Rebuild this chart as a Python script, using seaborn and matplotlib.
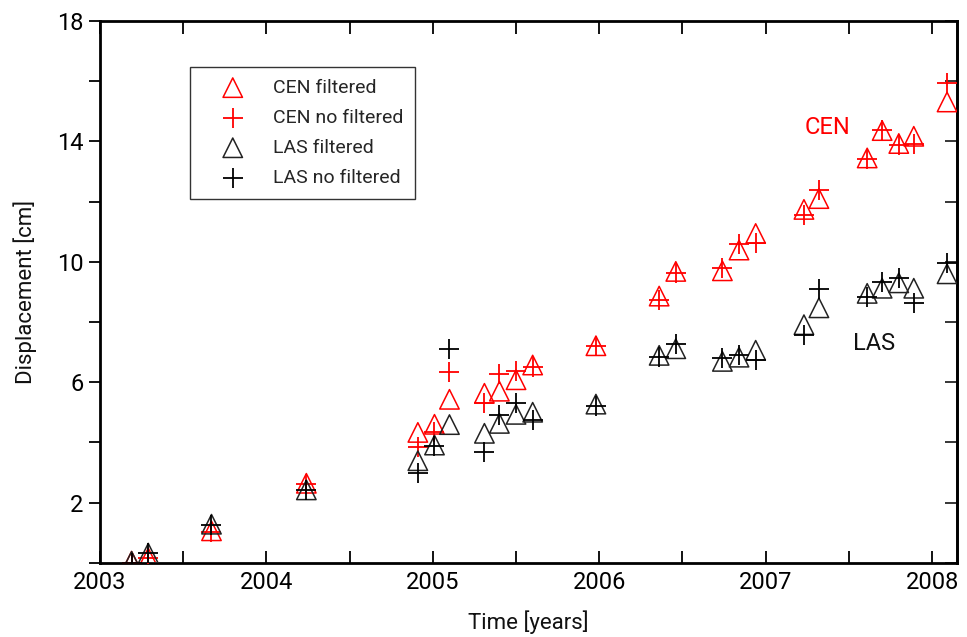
import matplotlib
matplotlib.use("Agg")
import matplotlib.pyplot as plt
import seaborn as sns
import pandas as pd

# ---- data ----
time = [2003.19, 2003.29, 2003.67, 2004.24, 2004.91, 2005.01, 2005.10, 2005.31,
        2005.40, 2005.50, 2005.60, 2005.98, 2006.36, 2006.46, 2006.74, 2006.84,
        2006.94, 2007.23, 2007.32, 2007.61, 2007.70, 2007.80, 2007.89, 2008.09]
cen_filtered = [0.05, 0.16, 1.06, 2.64, 4.33, 4.60, 5.43, 5.63, 5.70, 6.08, 6.57, 7.21,
                8.86, 9.68, 9.70, 10.39, 10.94, 11.74, 12.10, 13.45, 14.36, 13.93, 14.17, 15.31]
cen_nofilt = [0.00, 0.15, 1.03, 2.60, 3.85, 4.35, 6.35, 5.30, 6.27, 6.38, 6.51, 7.20,
              8.73, 9.64, 9.78, 10.59, 10.63, 11.55, 12.40, 13.40, 14.37, 13.88, 13.91, 15.93]
las_filtered = [0.05, 0.32, 1.28, 2.42, 3.39, 3.91, 4.59, 4.30, 4.63, 4.93, 5.00, 5.27,
                6.89, 7.11, 6.69, 6.83, 7.06, 7.91, 8.47, 8.95, 9.12, 9.30, 9.12, 9.60]
las_nofilt = [0.00, 0.33, 1.25, 2.42, 2.99, 3.88, 7.10, 3.69, 4.91, 5.30, 4.74, 5.20,
              6.82, 7.27, 6.79, 6.90, 6.73, 7.56, 9.08, 8.84, 9.34, 9.47, 8.62, 9.97]
legend_labels = ["CEN filtered", "CEN no filtered", "LAS filtered", "LAS no filtered"]
year_ticks = [2003, 2004, 2005, 2006, 2007, 2008]
y_ticks = [0, 2, 4, 6, 8, 10, 12, 14, 16, 18]
y_ticklabels = ["", "2", "", "6", "", "10", "", "14", "", "18"]

df = pd.DataFrame({"time": time, "cen_f": cen_filtered, "cen_n": cen_nofilt,
                   "las_f": las_filtered, "las_n": las_nofilt})

sns.set_theme(style="white")
plt.rcParams["font.family"] = ["Roboto", "DejaVu Sans"]

fig = plt.figure(figsize=(9.67, 6.37), dpi=100)
ax = fig.add_axes([0.1034, 0.1166, 0.8863, 0.8504])

tri_s = 14 ** 2
plus_s = 15 ** 2
sns.scatterplot(data=df, x="time", y="cen_f", marker="^", s=tri_s, facecolor="none",
                edgecolor="red", linewidth=1.1, ax=ax, label=legend_labels[0], zorder=3)
sns.scatterplot(data=df, x="time", y="cen_n", marker="+", s=plus_s, color="red",
                linewidth=1.3, ax=ax, label=legend_labels[1], zorder=3)
sns.scatterplot(data=df, x="time", y="las_f", marker="^", s=tri_s, facecolor="none",
                edgecolor="#222222", linewidth=1.1, ax=ax, label=legend_labels[2], zorder=3)
sns.scatterplot(data=df, x="time", y="las_n", marker="+", s=plus_s, color="black",
                linewidth=1.3, ax=ax, label=legend_labels[3], zorder=3)

ax.set_xlim(2003.0, 2008.15)
ax.set_ylim(0, 18)
ax.set_xticks(year_ticks)
ax.set_xticklabels([str(y) for y in year_ticks])
ax.set_xticks([y + 0.5 for y in year_ticks[:-1]], minor=True)
ax.set_yticks(y_ticks)
ax.set_yticklabels(y_ticklabels)

for s in ax.spines.values():
    s.set_color("black")
    s.set_linewidth(2.0)

ax.tick_params(axis="x", which="both", direction="in", length=9, width=1.3,
               colors="black", labelsize=17, pad=6, top=True, bottom=True)
ax.tick_params(axis="y", which="both", direction="out", length=8, width=1.3,
               colors="black", labelsize=17, pad=4, left=True, right=False)
# inward ticks on the right spine
ax_r = ax.secondary_yaxis("right")
ax_r.set_yticks(y_ticks)
ax_r.tick_params(direction="in", length=9, width=1.3, labelright=False)
ax_r.spines["right"].set_linewidth(2.0)

ax.set_xlabel("Time [years]", fontsize=16, labelpad=12, color="#111111")
ax.set_ylabel("Displacement [cm]", fontsize=16, labelpad=14, color="#111111")

ax.text(2007.37, 14.45, "CEN", color="red", fontsize=17, ha="center", va="center")
ax.text(2007.65, 7.27, "LAS", color="#111111", fontsize=17, ha="center", va="center")

leg = ax.legend(loc="upper left", bbox_to_anchor=(0.105, 0.915), borderaxespad=0,
                frameon=True, fancybox=False, fontsize=14, handlelength=3.2,
                handletextpad=0.45, labelspacing=0.62, borderpad=0.6, scatterpoints=1)
leg.get_frame().set_edgecolor("black")
leg.get_frame().set_linewidth(1.0)

fig.savefig("out.png", dpi=100)
